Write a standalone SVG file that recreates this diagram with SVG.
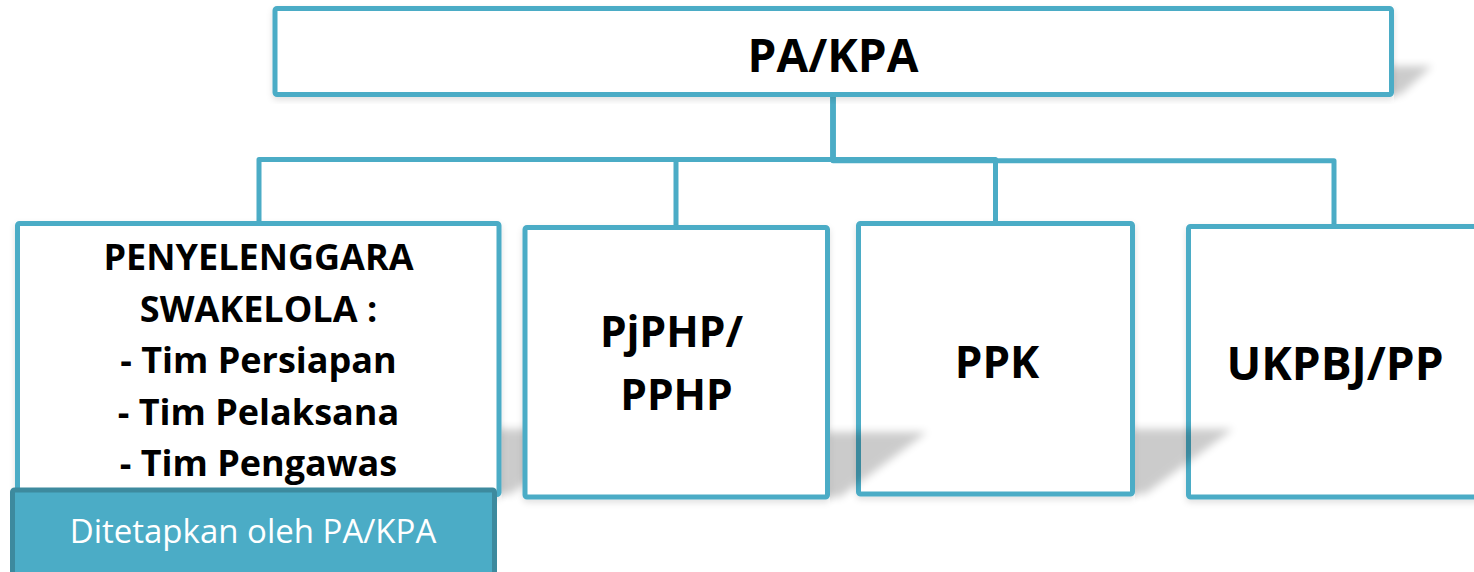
<svg xmlns="http://www.w3.org/2000/svg" width="1474" height="572" viewBox="0 0 1474 572">
<style>
.box{fill:#ffffff;stroke:#4BACC6;stroke-width:5;filter:url(#soft)}
.conn{fill:none;stroke:#4BACC6;stroke-width:5;stroke-linejoin:round;stroke-linecap:butt}
.t{font-family:"Open Sans","Noto Sans","Liberation Sans",sans-serif;font-weight:700;fill:#000;text-anchor:middle}
.lbl{font-family:"Open Sans","Noto Sans","Liberation Sans",sans-serif;font-weight:400;fill:#ffffff;text-anchor:middle}
.shadow{fill:#000;opacity:0.2;filter:url(#blur)}
</style>
<defs>
<filter id="blur" x="-30%" y="-30%" width="160%" height="160%"><feGaussianBlur stdDeviation="4"/></filter>
<filter id="soft" x="-5%" y="-5%" width="110%" height="115%"><feDropShadow dx="0" dy="3" stdDeviation="3" flood-color="#000" flood-opacity="0.12"/></filter>
<clipPath id="cTop"><rect x="1394" y="0" width="200" height="200"/></clipPath>
<clipPath id="cL"><rect x="501.5" y="300" width="300" height="272"/></clipPath>
<clipPath id="cP"><rect x="830" y="300" width="300" height="272"/></clipPath>
<clipPath id="cK"><rect x="1135" y="300" width="300" height="272"/></clipPath>
</defs>

<g id="connectors">
<path class="conn" d="M833,97 V159.5 H259 V221"/>
<path class="conn" d="M833,97 V159.5 H676 V225"/>
<path class="conn" d="M833,97 V159.5 H995.5 V221"/>
<path class="conn" d="M833,97 V160.8 H1334 V224"/>
</g>

<g id="node-pakpa">
<polygon class="shadow" clip-path="url(#cTop)" points="1385,66 1432,66 1400,95 1385,95"/>
<rect class="box" x="275" y="8.5" width="1116.5" height="86" rx="2"/>
<text class="t" x="833" y="72" font-size="46">PA/KPA</text>
</g>

<g id="node-penyelenggara">
<rect class="box" x="17.5" y="223.5" width="481.5" height="271" rx="2"/>
<polygon class="shadow" clip-path="url(#cL)" points="495,429 599,429 511,494 495,494"/>
<text class="t" x="258.5" y="270" font-size="36">PENYELENGGARA</text>
<text class="t" x="258.5" y="322" font-size="36">SWAKELOLA :</text>
<text class="t" x="258.5" y="373" font-size="36">- Tim Persiapan</text>
<text class="t" x="258.5" y="425" font-size="36">- Tim Pelaksana</text>
<text class="t" x="258.5" y="476" font-size="36">- Tim Pengawas</text>
</g>

<g id="node-label">
<rect x="12.5" y="490" width="482" height="100" fill="#4BACC6" stroke="#3D8A9E" stroke-width="5" rx="2"/>
<text class="lbl" x="253" y="543" font-size="33">Ditetapkan oleh PA/KPA</text>
</g>

<g id="node-pjphp">
<rect class="box" x="525" y="227.5" width="302.5" height="269.5" rx="2"/>
<text class="t" x="671.5" y="347" font-size="42.5">PjPHP/</text>
<text class="t" x="676.5" y="410" font-size="42.5">PPHP</text>
</g>

<g id="node-ppk">
<rect class="box" x="858.5" y="223.5" width="274" height="270.5" rx="2"/>
<text class="t" x="997" y="378" font-size="44">PPK</text>
</g>

<g id="node-ukpbj">
<rect class="box" x="1188.5" y="226.5" width="293" height="270.5" rx="2"/>
<text class="t" x="1335" y="380" font-size="46">UKPBJ/PP</text>
</g>

<g id="cast-shadows">
<polygon class="shadow" clip-path="url(#cP)" points="825,432 927,432 840,497 825,497"/>
<polygon class="shadow" clip-path="url(#cK)" points="1130,429 1233,429 1145,494 1130,494"/>
</g>
</svg>
